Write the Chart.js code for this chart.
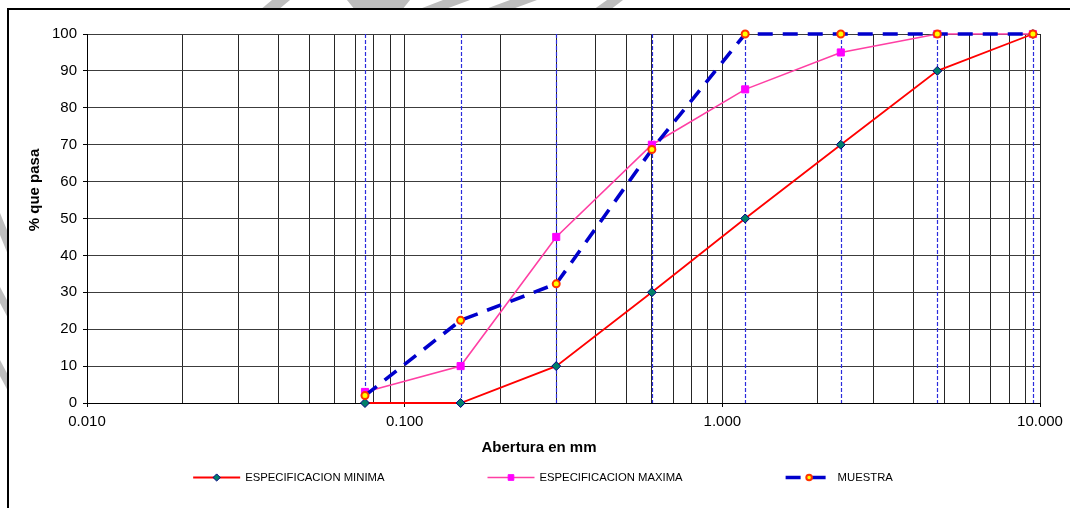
<!DOCTYPE html>
<html lang="es">
<head>
<meta charset="utf-8">
<title>Curva granulométrica</title>
<script src="https://cdn.jsdelivr.net/npm/chart.js@4.4.1/dist/chart.umd.min.js"></script>
<style>
    html, body { margin: 0; padding: 0; background: #fff; overflow: hidden; }
    #marca { position: absolute; left: 0; top: 0; }
    #marco {
        position: absolute; left: 7px; top: 8px; width: 1100px; height: 520px;
        border-left: 2px solid #000; border-top: 2px solid #000; background: #fff;
    }
    #contenedor { position: absolute; left: 0; top: 0; width: 1070px; height: 508px; }
</style>
</head>
<body>
<svg id="marca" width="1070" height="508">
    <g fill="#bdbdbd">
        <polygon points="260,10 278,10 290,0 272,0"/>
        <polygon points="347,0 410,0 402,10 355,10"/>
        <polygon points="417,10 443,10 470,0 443,0"/>
        <polygon points="483,10 510,10 537,0 510,0"/>
        <polygon points="593,10 610,10 623,0 607,0"/>
        <polygon points="0,213 0,235 9,257 9,235"/>
        <polygon points="0,287 0,303 9,320 9,304"/>
        <polygon points="0,360 0,376 9,393 9,377"/>
    </g>
</svg>
<div id="marco"></div>
<div id="contenedor"><canvas id="granulometria"></canvas></div>
<script>
    // aberturas de tamiz (mm) y porcentajes que pasan
    const aberturas = [0.075, 0.15, 0.3, 0.6, 1.18, 2.36, 4.75, 9.5];
    const especificacionMinima = [0, 0, 10, 30, 50, 70, 90, 100];
    const especificacionMaxima = [3, 10, 45, 70, 85, 95, 100, 100];
    const muestra = [2, 22.4, 32.3, 68.7, 100, 100, 100, 100];

    const nombresSeries = ['ESPECIFICACION MINIMA', 'ESPECIFICACION MAXIMA', 'MUESTRA'];

    // lineas verticales de la grilla logaritmica y sus etiquetas
    const lineasX = [0.01, 0.02, 0.03, 0.04, 0.05, 0.06, 0.07, 0.08, 0.09,
        0.1, 0.2, 0.3, 0.4, 0.5, 0.6, 0.7, 0.8, 0.9,
        1, 2, 3, 4, 5, 6, 7, 8, 9, 10];
    const marcasX = [0.01, 0.1, 1, 10];
    const etiquetasX = ['0.010', '0.100', '1.000', '10.000'];

    const tituloX = 'Abertura en mm';
    const tituloY = '% que pasa';

    const fuente = '"Liberation Sans", Arial, sans-serif';
    Chart.defaults.font.family = fuente;
    Chart.defaults.color = '#000';

    function puntos(valores) {
        return aberturas.map(function (abertura, i) {
            return {x: abertura, y: valores[i]};
        });
    }

    const lineasTamiz = {
        id: 'lineasTamiz',
        beforeDatasetsDraw(chart) {
            const {ctx, chartArea, scales} = chart;
            ctx.save();
            ctx.strokeStyle = '#2b2bdc';
            ctx.lineWidth = 1.2;
            ctx.setLineDash([4, 2]);
            aberturas.forEach(function (abertura) {
                const x = Math.round(scales.x.getPixelForValue(abertura)) + 0.5;
                ctx.beginPath();
                ctx.moveTo(x, chartArea.top);
                ctx.lineTo(x, chartArea.bottom);
                ctx.stroke();
            });
            ctx.restore();
        }
    };

    const rotulos = {
        id: 'rotulos',
        afterDraw(chart) {
            const {ctx, chartArea} = chart;
            ctx.save();
            ctx.fillStyle = '#000';
            ctx.font = 'bold 15px ' + fuente;
            ctx.textAlign = 'center';
            ctx.textBaseline = 'alphabetic';
            ctx.fillText(tituloX, chartArea.left + 452, chartArea.bottom + 48.5);

            ctx.save();
            ctx.translate(chartArea.left - 48, chartArea.top + 156);
            ctx.rotate(-Math.PI / 2);
            ctx.fillText(tituloY, 0, 0);
            ctx.restore();

            // leyenda estilo excel: linea con marcador y texto
            const anchoMuestra = 47;
            const separacionTexto = 5;
            const separacionItems = 103;
            ctx.font = '11.3px ' + fuente;
            const items = chart.data.datasets.map(function (ds) {
                return {ds: ds, ancho: anchoMuestra + separacionTexto + ctx.measureText(ds.label).width};
            });
            const total = items.reduce(function (s, it) { return s + it.ancho; }, 0) +
                separacionItems * (items.length - 1);
            let x = chartArea.left + 456 - total / 2;
            const y = chartArea.bottom + 74.5;

            items.forEach(function (it) {
                const ds = it.ds;
                ctx.strokeStyle = ds.borderColor;
                ctx.lineWidth = ds.borderWidth;
                ctx.setLineDash(ds.borderDash || []);
                ctx.beginPath();
                ctx.moveTo(x, y);
                ctx.lineTo(x + anchoMuestra, y);
                ctx.stroke();
                ctx.setLineDash([]);

                ctx.fillStyle = ds.pointBackgroundColor;
                ctx.strokeStyle = ds.pointBorderColor;
                ctx.lineWidth = ds.pointBorderWidth;
                Chart.helpers.drawPoint(ctx, {
                    pointStyle: ds.pointStyle,
                    radius: ds.pointRadius * 0.8,
                    rotation: 0,
                    borderWidth: ds.pointBorderWidth
                }, x + anchoMuestra / 2, y);

                ctx.fillStyle = '#000';
                ctx.textAlign = 'left';
                ctx.textBaseline = 'middle';
                ctx.fillText(ds.label, x + anchoMuestra + separacionTexto, y + 0.5);
                x += it.ancho + separacionItems;
            });
            ctx.restore();
        }
    };

    const minima = {
        label: nombresSeries[0],
        data: puntos(especificacionMinima),
        borderColor: '#ff0000',
        borderWidth: 1.8,
        pointStyle: 'rectRot',
        pointRadius: 4.5,
        pointBackgroundColor: '#00806a',
        pointBorderColor: '#000080',
        pointBorderWidth: 1,
        order: 3,
        clip: false
    };

    const maxima = {
        label: nombresSeries[1],
        data: puntos(especificacionMaxima),
        borderColor: '#ff3fa4',
        borderWidth: 1.6,
        pointStyle: 'rect',
        pointRadius: 5,
        pointBackgroundColor: '#ff00ff',
        pointBorderColor: '#ff00ff',
        pointBorderWidth: 1,
        order: 2,
        clip: false
    };

    const granulometria = {
        label: nombresSeries[2],
        data: puntos(muestra),
        borderColor: '#0000cc',
        borderWidth: 3.6,
        borderDash: [15, 10],
        pointStyle: 'circle',
        pointRadius: 3.5,
        pointBackgroundColor: '#ffff00',
        pointBorderColor: '#ff3300',
        pointBorderWidth: 2,
        order: 1,
        clip: false
    };

    new Chart('granulometria', {
        type: 'line',
        data: {
            datasets: [minima, maxima, granulometria]
        },
        options: {
            responsive: true,
            maintainAspectRatio: false,
            animation: false,
            events: [],
            layout: {
                padding: {left: 7, top: 34, right: 30, bottom: 70}
            },
            plugins: {
                legend: {display: false},
                tooltip: {enabled: false}
            },
            scales: {
                x: {
                    type: 'logarithmic',
                    min: 0.01,
                    max: 10,
                    afterBuildTicks: function (scale) {
                        scale.ticks = lineasX.map(function (v) {
                            return {value: v, major: marcasX.indexOf(v) >= 0};
                        });
                    },
                    afterFit: function (scale) {
                        scale.height = 35;
                    },
                    ticks: {
                        autoSkip: false,
                        maxRotation: 0,
                        minRotation: 0,
                        padding: 6,
                        color: '#000',
                        font: {size: 15},
                        callback: function (value) {
                            const i = marcasX.indexOf(value);
                            return i >= 0 ? etiquetasX[i] : '';
                        }
                    },
                    grid: {
                        color: '#262626',
                        lineWidth: 1,
                        tickLength: 4,
                        tickColor: function (c) {
                            return c.tick && c.tick.major ? '#000' : 'rgba(0,0,0,0)';
                        }
                    },
                    border: {color: '#000', width: 1}
                },
                y: {
                    min: 0,
                    max: 100,
                    afterFit: function (scale) {
                        scale.width = 80;
                    },
                    ticks: {
                        stepSize: 10,
                        padding: 6,
                        color: '#000',
                        font: {size: 15}
                    },
                    grid: {
                        color: '#3c3c3c',
                        lineWidth: 1,
                        tickLength: 4,
                        tickColor: '#000'
                    },
                    border: {color: '#000', width: 1}
                }
            }
        },
        plugins: [lineasTamiz, rotulos]
    });
</script>
</body>
</html>
